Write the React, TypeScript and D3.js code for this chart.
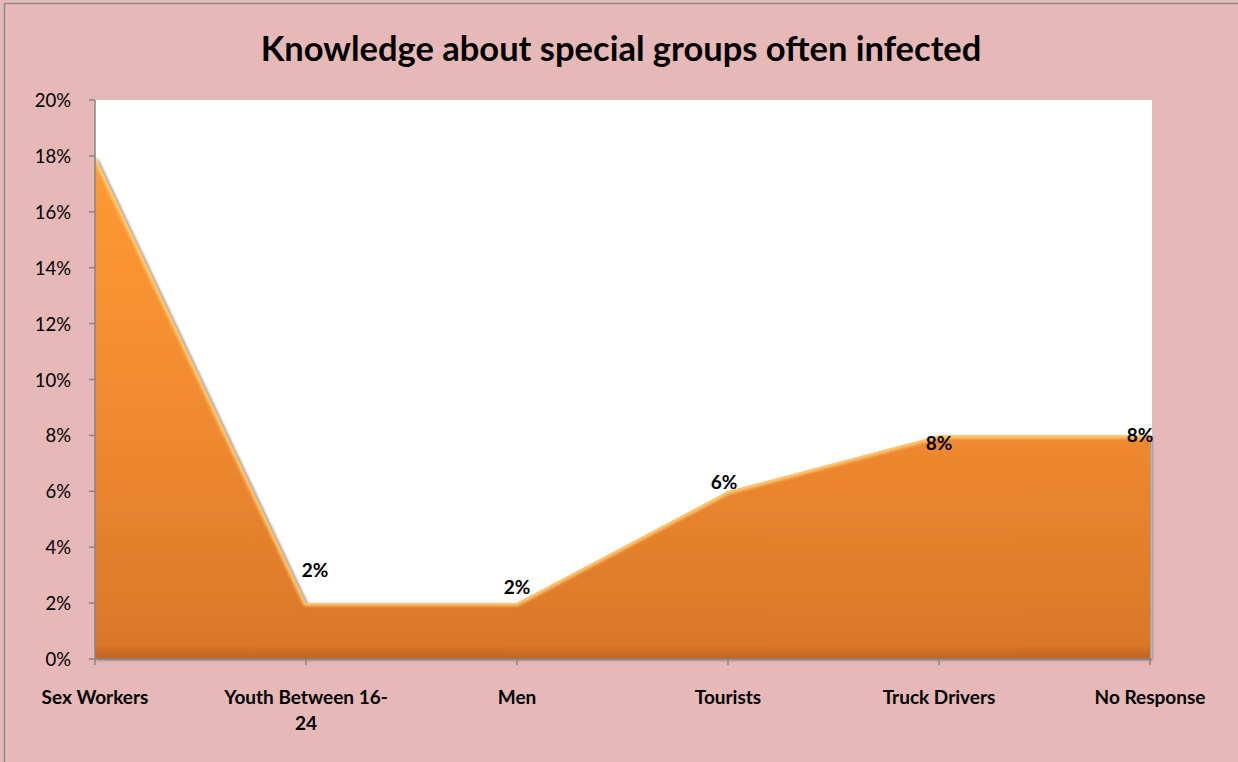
import React from "react";
import * as d3 from "d3";

const categories = ["Sex Workers", "Youth Between 16-24", "Men", "Tourists", "Truck Drivers", "No Response"];
const values = [18, 2, 2, 6, 8, 8];
const showLabel = [false, true, true, true, true, true];
const yTicks = [0, 2, 4, 6, 8, 10, 12, 14, 16, 18, 20];
const title = "Knowledge about special groups often infected";

// label placement offsets (style, relative to the point)
const labelOffsets: [number, number][] = [
  [0, 0],
  [9, -34],
  [0, -17],
  [-4, -10],
  [0, 7],
  [-10, -1],
];

const W = 1238;
const H = 762;
const left = 95;
const right = 1152;
const top = 100;
const bottom = 659;
const FONT = "Lato, 'Open Sans', sans-serif";

export default function App() {
  const x = d3
    .scalePoint<string>()
    .domain(categories)
    .range([left, right - 2]);
  const y = d3.scaleLinear().domain([0, 20]).range([bottom, top]);

  const data = categories.map((c, i) => ({ c, v: values[i] }));
  const area = d3
    .area<{ c: string; v: number }>()
    .x((d) => x(d.c)!)
    .y0(y(0))
    .y1((d) => y(d.v));
  const line = d3
    .line<{ c: string; v: number }>()
    .x((d) => x(d.c)!)
    .y((d) => y(d.v));

  const axisColor = "#868686";
  const lastX = x(categories[categories.length - 1])!;

  return (
    <svg
      width={W}
      height={H}
      style={{ position: "absolute", left: 0, top: 0, display: "block" }}
      fontFamily={FONT}
    >
      <defs>
        <linearGradient id="fillGrad" x1="0" y1={y(18)} x2="0" y2={y(0)} gradientUnits="userSpaceOnUse">
          <stop offset="0" stopColor="#FD9B33" />
          <stop offset="0.55" stopColor="#EF8930" />
          <stop offset="1" stopColor="#D97628" />
        </linearGradient>
        <linearGradient id="bottomShade" x1="0" y1={bottom - 14} x2="0" y2={bottom} gradientUnits="userSpaceOnUse">
          <stop offset="0" stopColor="#B85F1E" stopOpacity="0" />
          <stop offset="0.4" stopColor="#B85F1E" stopOpacity="0.35" />
          <stop offset="1" stopColor="#A0521A" stopOpacity="0.5" />
        </linearGradient>
        <clipPath id="areaClip">
          <path d={area(data) || ""} />
        </clipPath>
        <filter id="shadow" x="-5%" y="-5%" width="110%" height="110%">
          <feGaussianBlur in="SourceAlpha" stdDeviation="1.5" />
          <feOffset dx="2" dy="1" result="b" />
          <feComponentTransfer>
            <feFuncA type="linear" slope="0.45" />
          </feComponentTransfer>
          <feMerge>
            <feMergeNode />
            <feMergeNode in="SourceGraphic" />
          </feMerge>
        </filter>
        <filter id="blur2">
          <feGaussianBlur stdDeviation="1.6" />
        </filter>
      </defs>

      {/* background */}
      <rect x={0} y={0} width={W} height={H} fill="#E6B8B8" />
      <rect x={4.5} y={3.5} width={W + 10} height={H + 10} fill="none" stroke="#8C8C8C" strokeWidth={1.5} />

      {/* title */}
      <text
        x={621}
        y={47}
        textAnchor="middle"
        dominantBaseline="central"
        fontSize={34.5}
        fontWeight="bold"
        fill="#000"
      >
        {title}
      </text>

      {/* plot area */}
      <rect x={left} y={top} width={right - left} height={bottom - top} fill="#FFFFFF" />

      {/* area */}
      <g filter="url(#shadow)">
        <path d={area(data) || ""} fill="url(#fillGrad)" />
      </g>
      <g clipPath="url(#areaClip)">
        <rect x={left} y={bottom - 14} width={lastX - left} height={14} fill="url(#bottomShade)" />
        <path
          d={line(data) || ""}
          fill="none"
          stroke="#FFD27A"
          strokeWidth={6}
          filter="url(#blur2)"
          opacity={0.9}
        />
        <line x1={lastX} x2={lastX} y1={top} y2={bottom} stroke="#B0601E" strokeWidth={6} opacity={0.4} filter="url(#blur2)" />
        <line x1={left} x2={left} y1={top} y2={bottom} stroke="#B0601E" strokeWidth={6} opacity={0.25} filter="url(#blur2)" />
      </g>

      {/* axes */}
      <line x1={left} x2={left} y1={top} y2={bottom} stroke={axisColor} strokeWidth={1.5} />
      <line x1={left} x2={right} y1={bottom} y2={bottom} stroke={axisColor} strokeWidth={1.5} />
      {yTicks.map((t) => (
        <g key={t}>
          <line x1={left - 6} x2={left} y1={y(t)} y2={y(t)} stroke={axisColor} strokeWidth={1.5} />
          <text
            x={71}
            y={y(t)}
            textAnchor="end"
            dominantBaseline="central"
            fontSize={18.5}
            fill="#000"
          >
            {t + "%"}
          </text>
        </g>
      ))}
      {categories.map((c) => {
        const cx = x(c)!;
        const words = c === "Youth Between 16-24" ? ["Youth Between 16-", "24"] : [c];
        return (
          <g key={c}>
            <line x1={cx} x2={cx} y1={bottom} y2={bottom + 6} stroke={axisColor} strokeWidth={1.5} />
            {words.map((w, j) => (
              <text
                key={j}
                x={cx}
                y={696 + j * 26}
                textAnchor="middle"
                dominantBaseline="central"
                fontSize={19}
                fontWeight="bold"
                fill="#000"
              >
                {w}
              </text>
            ))}
          </g>
        );
      })}

      {/* data labels */}
      {data.map((d, i) =>
        showLabel[i] ? (
          <text
            key={d.c}
            x={x(d.c)! + labelOffsets[i][0]}
            y={y(d.v) + labelOffsets[i][1]}
            textAnchor="middle"
            dominantBaseline="central"
            fontSize={19}
            fontWeight="bold"
            fill="#000"
          >
            {d.v + "%"}
          </text>
        ) : null
      )}
    </svg>
  );
}
